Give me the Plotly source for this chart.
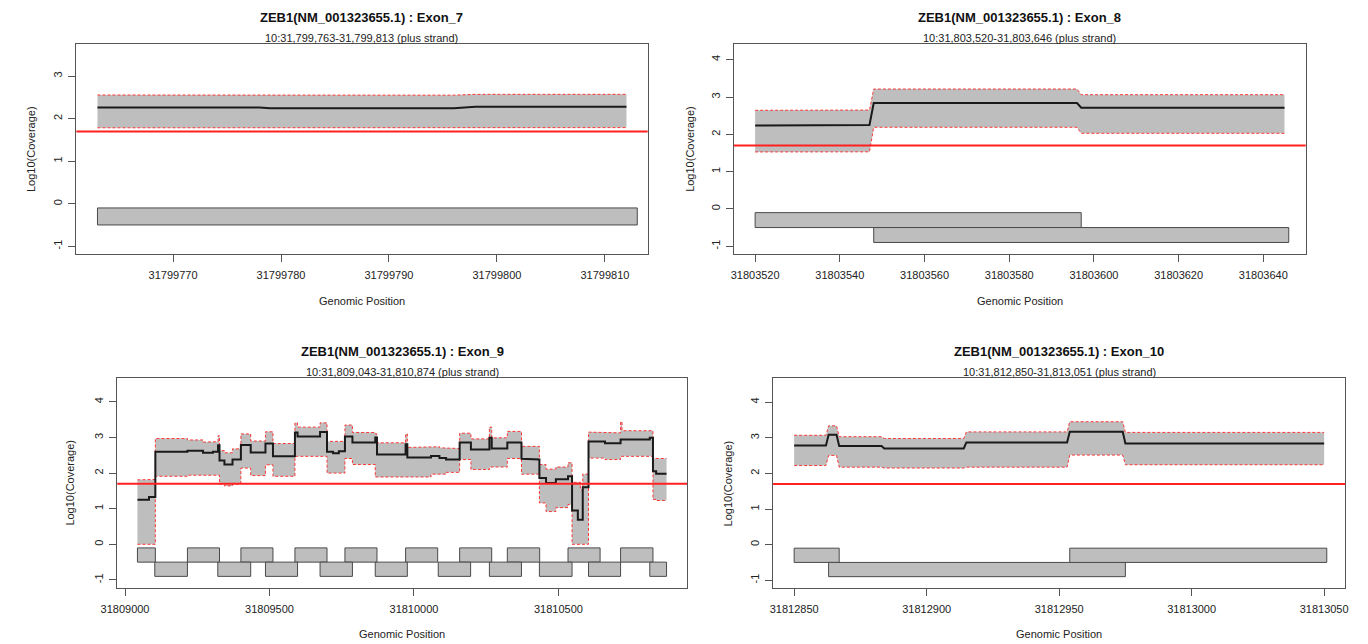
import plotly.graph_objects as go

W, H = 1368, 644
THRESH = 1.699  # log10(50)

# ---------------- Exon 7 ----------------
e7_title = "ZEB1(NM_001323655.1) : Exon_7"
e7_sub = "10:31,799,763-31,799,813 (plus strand)"
e7_seg_start = [31799763, 31799779, 31799798]
e7_seg_end = [31799778, 31799796, 31799812]
e7_mean = [2.265, 2.243, 2.28]
e7_upper = [2.557, 2.553, 2.572]
e7_lower = [1.785, 1.783, 1.79]
e7_amp_start = [31799763]
e7_amp_end = [31799813]
e7_amp_row = [0]
e7_xticks = [31799770, 31799780, 31799790, 31799800, 31799810]
e7_yticks = [-1, 0, 1, 2, 3]

# ---------------- Exon 8 ----------------
e8_title = "ZEB1(NM_001323655.1) : Exon_8"
e8_sub = "10:31,803,520-31,803,646 (plus strand)"
e8_seg_start = [31803520, 31803536, 31803548, 31803597]
e8_seg_end = [31803535, 31803547, 31803596, 31803645]
e8_mean = [2.235, 2.252, 2.84, 2.714]
e8_upper = [2.643, 2.650, 3.214, 3.062]
e8_lower = [1.527, 1.530, 2.188, 2.027]
e8_amp_start = [31803520, 31803548]
e8_amp_end = [31803597, 31803646]
e8_amp_row = [0, 1]
e8_xticks = [31803520, 31803540, 31803560, 31803580, 31803600, 31803620, 31803640]
e8_yticks = [-1, 0, 1, 2, 3, 4]

# ---------------- Exon 9 ----------------
e9_title = "ZEB1(NM_001323655.1) : Exon_9"
e9_sub = "10:31,809,043-31,810,874 (plus strand)"
e9_seg_start = [31809043, 31809083, 31809105, 31809216, 31809270, 31809304, 31809322,
                31809327, 31809344, 31809372, 31809401, 31809435, 31809486, 31809512,
                31809588, 31809597, 31809675, 31809699, 31809720, 31809740, 31809761,
                31809787, 31809866, 31809872, 31809971, 31809977, 31810059, 31810088,
                31810111, 31810158, 31810197, 31810261, 31810269, 31810323, 31810372,
                31810405, 31810434, 31810457, 31810491, 31810533, 31810547, 31810567,
                31810576, 31810584, 31810604, 31810661, 31810715, 31810720, 31810816,
                31810827, 31810838]
e9_seg_end = e9_seg_start[1:] + [31810874]
e9_mean = [1.25, 1.33, 2.60, 2.63, 2.57, 2.60, 2.78,
           2.35, 2.24, 2.38, 2.79, 2.58, 2.83, 2.47,
           3.14, 3.03, 3.15, 2.60, 2.56, 2.61, 3.03,
           2.86, 3.00, 2.52, 2.81, 2.44, 2.48, 2.42,
           2.38, 2.86, 2.66, 2.99, 2.69, 2.86, 2.40,
           2.38, 1.86, 1.72, 1.83, 1.91, 0.95, 0.69,
           0.69, 1.60, 2.89, 2.84, 2.94, 2.94, 2.99,
           2.05, 1.98]
e9_upper = [1.81, 1.82, 2.97, 2.93, 2.87, 2.88, 3.05,
            2.63, 2.57, 2.68, 3.10, 2.90, 3.16, 2.83,
            3.41, 3.29, 3.41, 2.89, 2.89, 2.89, 3.35,
            3.14, 3.10, 2.85, 3.10, 2.72, 2.74, 2.71,
            2.69, 3.12, 2.96, 3.29, 2.99, 3.17, 2.75,
            2.75, 2.24, 2.11, 2.17, 2.29, 1.74, 1.74,
            1.53, 1.97, 3.15, 3.13, 3.44, 3.19, 3.19,
            2.41, 2.41]
e9_lower = [0.0, 0.0, 1.91, 1.94, 1.94, 1.94, 1.94,
            1.69, 1.64, 1.69, 2.14, 1.93, 2.23, 1.91,
            2.47, 2.47, 2.47, 2.00, 2.00, 2.00, 2.41,
            2.24, 1.89, 1.89, 1.89, 1.89, 1.97, 1.97,
            2.02, 2.38, 2.10, 2.17, 2.17, 2.41, 1.97,
            1.97, 1.16, 0.92, 1.03, 1.12, 0.0, 0.0,
            0.0, 0.0, 2.42, 2.38, 2.47, 2.47, 2.47,
            1.26, 1.23]
e9_amp_start = [31809043, 31809216, 31809401, 31809588, 31809761, 31809971, 31810158,
                31810323, 31810533, 31810715,
                31809103, 31809321, 31809486, 31809675, 31809866, 31810084, 31810261,
                31810434, 31810604, 31810816]
e9_amp_end = [31809105, 31809327, 31809512, 31809699, 31809872, 31810082, 31810269,
              31810435, 31810644, 31810827,
              31809216, 31809435, 31809597, 31809787, 31809977, 31810196, 31810372,
              31810547, 31810715, 31810874]
e9_amp_row = [0] * 10 + [1] * 10
e9_xticks = [31809000, 31809500, 31810000, 31810500]
e9_yticks = [-1, 0, 1, 2, 3, 4]

# ---------------- Exon 10 ----------------
e10_title = "ZEB1(NM_001323655.1) : Exon_10"
e10_sub = "10:31,812,850-31,813,051 (plus strand)"
e10_seg_start = [31812850, 31812863, 31812867, 31812884, 31812915, 31812954, 31812975]
e10_seg_end = [31812862, 31812866, 31812883, 31812914, 31812953, 31812974, 31813050]
e10_mean = [2.785, 3.084, 2.766, 2.70, 2.87, 3.168, 2.84]
e10_upper = [3.07, 3.335, 3.03, 2.98, 3.165, 3.45, 3.15]
e10_lower = [2.22, 2.505, 2.175, 2.15, 2.175, 2.514, 2.243]
e10_amp_start = [31812850, 31812863, 31812954]
e10_amp_end = [31812867, 31812975, 31813051]
e10_amp_row = [0, 1, 0]
e10_xticks = [31812850, 31812900, 31812950, 31813000, 31813050]
e10_yticks = [-1, 0, 1, 2, 3, 4]

# ---------------- layout (pixel geometry) ----------------
panels = [
    dict(title=e7_title, sub=e7_sub, s=e7_seg_start, e=e7_seg_end, m=e7_mean, u=e7_upper, l=e7_lower,
         a0=e7_amp_start, a1=e7_amp_end, ar=e7_amp_row, xt=e7_xticks, yt=e7_yticks,
         box=(60.2, 640.0, 43.7, 254.0), xr=(31799761.04, 31799813.96), yr=(-1.183, 3.763),
         ylab_x=14.4, title_y=17.3, sub_y=37.7, xlab_y=300.7),
    dict(title=e8_title, sub=e8_sub, s=e8_seg_start, e=e8_seg_end, m=e8_mean, u=e8_upper, l=e8_lower,
         a0=e8_amp_start, a1=e8_amp_end, ar=e8_amp_row, xt=e8_xticks, yt=e8_yticks,
         box=(727.6, 1307.8, 43.7, 254.0), xr=(31803515.0, 31803650.0), yr=(-1.209, 4.429),
         ylab_x=683.0, title_y=17.3, sub_y=37.7, xlab_y=300.7),
    dict(title=e9_title, sub=e9_sub, s=e9_seg_start, e=e9_seg_end, m=e9_mean, u=e9_upper, l=e9_lower,
         a0=e9_amp_start, a1=e9_amp_end, ar=e9_amp_row, xt=e9_xticks, yt=e9_yticks,
         box=(101.7, 680.0, 377.7, 587.7), xr=(31808973.0, 31810945.0), yr=(-1.218, 4.678),
         ylab_x=53.7, title_y=351.7, sub_y=372.0, xlab_y=634.3),
    dict(title=e10_title, sub=e10_sub, s=e10_seg_start, e=e10_seg_end, m=e10_mean, u=e10_upper, l=e10_lower,
         a0=e10_amp_start, a1=e10_amp_end, ar=e10_amp_row, xt=e10_xticks, yt=e10_yticks,
         box=(767.3, 1347.9, 378.0, 588.0), xr=(31812842.05, 31813057.95), yr=(-1.218, 4.678),
         ylab_x=722.0, title_y=351.7, sub_y=372.0, xlab_y=634.3),
]

FONT = "Liberation Sans, Arial, Helvetica, sans-serif"
GRAY = "#BEBEBE"
BOXC = "#555555"

fig = go.Figure()
annotations = []
shapes = []
layout_axes = {}


def px(xp):
    return xp / W


def py(yp):
    return 1 - yp / H


def step_path(starts, ends, vals):
    xs, ys = [], []
    for a, b, v in zip(starts, ends, vals):
        xs += [a, b]
        ys += [v, v]
    return xs, ys


for i, p in enumerate(panels, start=1):
    xa = "x" if i == 1 else f"x{i}"
    ya = "y" if i == 1 else f"y{i}"
    xkey = "xaxis" if i == 1 else f"xaxis{i}"
    ykey = "yaxis" if i == 1 else f"yaxis{i}"
    x0, x1, y0, y1 = p["box"]

    ux, uy = step_path(p["s"], p["e"], p["u"])
    lx, ly = step_path(p["s"], p["e"], p["l"])
    mx, my = step_path(p["s"], p["e"], p["m"])

    # coverage band
    fig.add_trace(go.Scatter(x=ux + lx[::-1], y=uy + ly[::-1], fill="toself", fillcolor=GRAY,
                             mode="lines", line=dict(width=0, color=GRAY), xaxis=xa, yaxis=ya,
                             hoverinfo="skip", showlegend=False))
    # dashed bounds
    for bx, by in ((ux, uy), (lx, ly)):
        fig.add_trace(go.Scatter(x=bx, y=by, mode="lines",
                                 line=dict(color="rgba(255,40,40,0.9)", width=1, dash="3px,2px"),
                                 xaxis=xa, yaxis=ya, hoverinfo="skip", showlegend=False))
    # mean line
    fig.add_trace(go.Scatter(x=mx, y=my, mode="lines", line=dict(color="#1a1a1a", width=2),
                             xaxis=xa, yaxis=ya, hoverinfo="skip", showlegend=False))

    # amplicon rectangles
    for a, b, r in zip(p["a0"], p["a1"], p["ar"]):
        top = -0.1 if r == 0 else -0.5
        bot = -0.5 if r == 0 else -0.9
        shapes.append(dict(type="rect", xref=xa, yref=ya, x0=a, x1=b, y0=bot, y1=top,
                           fillcolor=GRAY, line=dict(color="#4a4a4a", width=1), layer="above"))

    # threshold line
    shapes.append(dict(type="line", xref=f"{xa} domain", yref=ya, x0=0, x1=1, y0=THRESH, y1=THRESH,
                       line=dict(color="#ff2020", width=2), layer="above"))

    layout_axes[xkey] = dict(domain=[px(x0), px(x1)], range=list(p["xr"]), anchor=ya,
                             showgrid=False, zeroline=False, showline=True, mirror=True,
                             linecolor=BOXC, linewidth=1, ticks="outside", ticklen=7,
                             tickcolor=BOXC, tickvals=p["xt"], ticktext=[str(t) for t in p["xt"]],
                             ticklabelstandoff=4,
                             tickfont=dict(family=FONT, size=11, color="#222"), fixedrange=True)
    layout_axes[ykey] = dict(domain=[py(y1), py(y0)], range=list(p["yr"]), anchor=xa,
                             showgrid=False, zeroline=False, showline=True, mirror=True,
                             linecolor=BOXC, linewidth=1, ticks="outside", ticklen=7,
                             tickcolor=BOXC, tickvals=p["yt"], ticktext=[str(t) for t in p["yt"]],
                             ticklabelstandoff=2,
                             tickangle=-90, tickfont=dict(family=FONT, size=11, color="#222"),
                             fixedrange=True)

    cx = (x0 + x1) / 2
    cy = (y0 + y1) / 2
    annotations += [
        dict(text=f"<b>{p['title']}</b>", x=px(cx), y=py(p["title_y"]), xref="paper", yref="paper",
             showarrow=False, xanchor="center", yanchor="middle",
             font=dict(family=FONT, size=13, color="#111")),
        dict(text=p["sub"], x=px(cx), y=py(p["sub_y"]), xref="paper", yref="paper",
             showarrow=False, xanchor="center", yanchor="middle",
             font=dict(family=FONT, size=11, color="#222")),
        dict(text="Genomic Position", x=px(cx), y=py(p["xlab_y"]), xref="paper", yref="paper",
             showarrow=False, xanchor="center", yanchor="middle",
             font=dict(family=FONT, size=11, color="#222")),
        dict(text="Log10(Coverage)", x=px(p["ylab_x"]), y=py(cy), xref="paper", yref="paper",
             showarrow=False, xanchor="center", yanchor="middle", textangle=-90,
             font=dict(family=FONT, size=11, color="#222")),
    ]

fig.update_layout(width=W, height=H, margin=dict(l=0, r=0, t=0, b=0, pad=0),
                  paper_bgcolor="white", plot_bgcolor="white", showlegend=False,
                  annotations=annotations, shapes=shapes, **layout_axes)

fig.write_html("out.html", config={"displayModeBar": False},
               post_script="document.body.style.margin='0px';document.body.style.overflow='hidden';")
